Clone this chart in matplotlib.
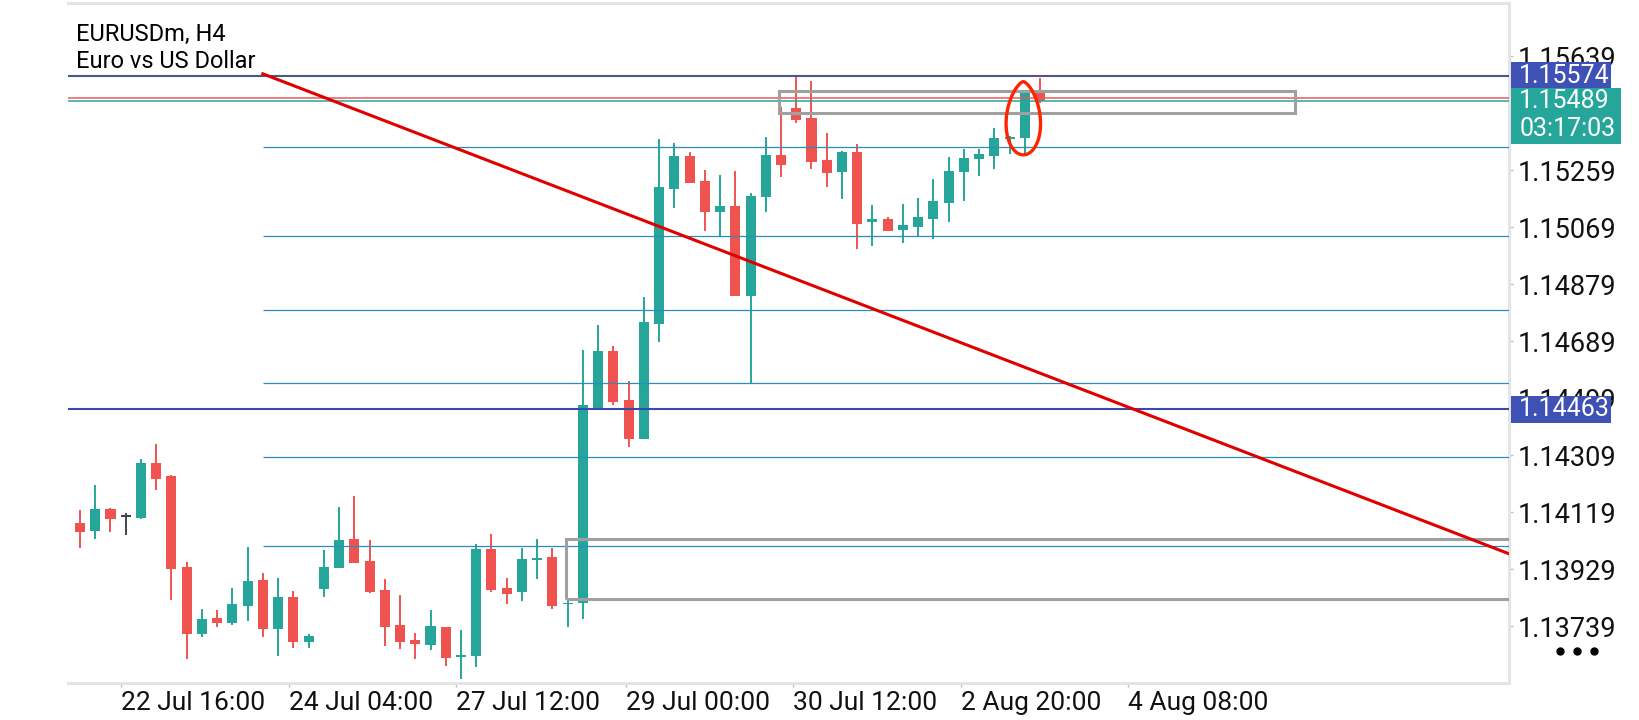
"""
EURUSDm H4 candlestick chart, mobile terminal style.
"""

import matplotlib

matplotlib.use("Agg")

import matplotlib.pyplot as plt
import numpy as np
from matplotlib.patches import Polygon, Rectangle
from matplotlib.transforms import blended_transform_factory


plt.rcParams["font.family"] = ["Roboto", "DejaVu Sans"]

SYMBOL: str = "EURUSDm, H4"
DESCRIPTION: str = "Euro vs US Dollar"

OPENS: list[float] = [
    1.14082, 1.14057, 1.14129, 1.14104, 1.14099, 1.14283, 1.14239, 1.13936,
    1.13714, 1.13766, 1.13750, 1.13807, 1.13893, 1.13730, 1.13836, 1.13687,
    1.13863, 1.13934, 1.14029, 1.13956, 1.13860, 1.13743, 1.13693, 1.13678,
    1.13737, 1.13636, 1.13641, 1.13997, 1.13867, 1.13852, 1.13959, 1.13970,
    1.13812, 1.13818, 1.14464, 1.14658, 1.14492, 1.14364, 1.14747, 1.15197,
    1.15305, 1.15223, 1.15120, 1.15139, 1.14840, 1.15170, 1.15308, 1.15465,
    1.15432, 1.15293, 1.15253, 1.15318, 1.15085, 1.15097, 1.15058, 1.15070,
    1.15097, 1.15150, 1.15254, 1.15295, 1.15307, 1.15362, 1.15367, 1.15517,
]

HIGHS: list[float] = [
    1.14126, 1.14209, 1.14132, 1.14117, 1.14298, 1.14348, 1.14243, 1.13952,
    1.13798, 1.13792, 1.13866, 1.14003, 1.13918, 1.13899, 1.13856, 1.13713,
    1.13993, 1.14137, 1.14172, 1.14026, 1.13896, 1.13842, 1.13716, 1.13793,
    1.13738, 1.13727, 1.14013, 1.14047, 1.13900, 1.13999, 1.14029, 1.13999,
    1.13824, 1.14659, 1.14742, 1.14673, 1.14558, 1.14835, 1.15362, 1.15348,
    1.15318, 1.15259, 1.15243, 1.15256, 1.15182, 1.15368, 1.15468, 1.15570,
    1.15556, 1.15384, 1.15323, 1.15345, 1.15142, 1.15104, 1.15145, 1.15166,
    1.15229, 1.15302, 1.15329, 1.15331, 1.15398, 1.15373, 1.15520, 1.15565,
]

LOWS: list[float] = [
    1.14000, 1.14030, 1.14054, 1.14044, 1.14097, 1.14193, 1.13826, 1.13630,
    1.13704, 1.13737, 1.13744, 1.13756, 1.13704, 1.13640, 1.13666, 1.13666,
    1.13837, 1.13932, 1.13950, 1.13849, 1.13674, 1.13664, 1.13631, 1.13660,
    1.13608, 1.13562, 1.13602, 1.13854, 1.13812, 1.13824, 1.13896, 1.13798,
    1.13738, 1.13762, 1.14462, 1.14475, 1.14337, 1.14362, 1.14687, 1.15134,
    1.15216, 1.15056, 1.15039, 1.14838, 1.14545, 1.15118, 1.15235, 1.15417,
    1.15263, 1.15204, 1.15164, 1.14997, 1.15007, 1.15055, 1.15017, 1.15035,
    1.15028, 1.15087, 1.15157, 1.15240, 1.15264, 1.15314, 1.15307, 1.15482,
]

CLOSES: list[float] = [
    1.14054, 1.14129, 1.14097, 1.14104, 1.14283, 1.14230, 1.13930, 1.13714,
    1.13762, 1.13750, 1.13813, 1.13889, 1.13730, 1.13836, 1.13687, 1.13706,
    1.13937, 1.14026, 1.13951, 1.13854, 1.13738, 1.13688, 1.13679, 1.13740,
    1.13634, 1.13642, 1.13997, 1.13860, 1.13848, 1.13963, 1.13968, 1.13808,
    1.13818, 1.14475, 1.14658, 1.14486, 1.14364, 1.14752, 1.15203, 1.15305,
    1.15217, 1.15120, 1.15139, 1.14840, 1.15173, 1.15308, 1.15277, 1.15426,
    1.15287, 1.15250, 1.15319, 1.15080, 1.15095, 1.15057, 1.15076, 1.15103,
    1.15155, 1.15256, 1.15298, 1.15312, 1.15365, 1.15370, 1.15517, 1.15489,
]

TIME_LABELS: list[str] = [
    "22 Jul 16:00",
    "24 Jul 04:00",
    "27 Jul 12:00",
    "29 Jul 00:00",
    "30 Jul 12:00",
    "2 Aug 20:00",
    "4 Aug 08:00",
]

TIME_LABEL_BARS: list[float] = [2.7, 13.7, 24.7, 35.8, 46.8, 57.8, 68.8]

PRICE_TICKS: list[float] = [
    1.13739, 1.13929, 1.14119, 1.14309, 1.14499, 1.14689,
    1.14879, 1.15069, 1.15259, 1.15449, 1.15639,
]

LEVEL_PRICES: list[float] = [1.15335, 1.15038, 1.14792, 1.14550, 1.14303, 1.14005]
LEVEL_START_BAR: float = 12.0

RESISTANCE: float = 1.15574
SUPPORT: float = 1.14463
BID: float = 1.15489
ASK: float = 1.15498
COUNTDOWN: str = "03:17:03"

TREND_BARS: list[float] = [12.0, 93.8]
TREND_PRICES: list[float] = [1.15580, 1.13980]

# zones: left bar, right bar, low price, high price
UPPER_ZONE: tuple = (45.9, 79.7, 1.15450, 1.15523)
LOWER_ZONE: tuple = (31.9, 120.0, 1.13829, 1.14029)

MARKED_BAR: int = 62
MARK_CENTER_PRICE: float = 1.15432

GREEN = "#26a69a"
RED = "#ef5350"
DOJI = "#3c4452"
INDIGO = "#3f51b5"
BORDER = "#e4e4e4"


def draw_candles(ax) -> None:
    """
    Bodies and wicks.
    """
    for i, (o, h, l, c) in enumerate(zip(OPENS, HIGHS, LOWS, CLOSES)):
        if c > o:
            color = GREEN
        elif c < o:
            color = RED
        else:
            color = DOJI
        ax.vlines(i, l, h, color=color, lw=1.4, zorder=2)
        ax.bar(
            i,
            max(abs(c - o), 0.00006),
            bottom=min(o, c),
            width=0.66,
            color=color,
            zorder=2,
        )


def draw_mark(ax) -> None:
    """
    Hand drawn loop round the breakout candle, slightly pointed on top.
    """
    t = np.linspace(0, 2 * np.pi, 160)
    xs = MARKED_BAR - 0.1 + 1.26 * np.sin(t) * np.abs(np.sin(t / 2)) ** 0.35
    ys = MARK_CENTER_PRICE + 0.00122 * np.cos(t)
    ax.add_patch(
        Polygon(
            np.column_stack([xs, ys]),
            closed=True,
            fill=False,
            ec="#ff2400",
            lw=2.4,
            joinstyle="round",
            zorder=7,
        )
    )


def draw_objects(ax) -> None:
    """
    Horizontal levels, trend line and zones.
    """
    ax.axhline(RESISTANCE, color="#4a5888", lw=1.5, zorder=4)
    ax.axhline(SUPPORT, color="#3949ab", lw=1.5, zorder=4)
    ax.axhline(ASK, color="#e85a5a", lw=1.1, zorder=4)
    ax.axhline(BID, color=GREEN, lw=1.1, zorder=4)

    for level in LEVEL_PRICES:
        ax.hlines(level, LEVEL_START_BAR, 200, color="#2b8cbe", lw=0.9, zorder=4)

    for left, right, low, high in (UPPER_ZONE, LOWER_ZONE):
        ax.add_patch(
            Rectangle(
                (left, low),
                right - left,
                high - low,
                fill=False,
                ec="#a0a0a0",
                lw=2.2,
                zorder=5,
            )
        )

    ax.plot(TREND_BARS, TREND_PRICES, color="#e00000", lw=2.2, zorder=6)


def draw_price_boxes(ax) -> None:
    """
    Coloured price tags on the right scale.
    """
    blend = blended_transform_factory(ax.transAxes, ax.transData)

    tags = [
        (RESISTANCE, RESISTANCE - 0.00045, 0.0009, INDIGO, 0.0694),
        (SUPPORT, SUPPORT - 0.00045, 0.0009, INDIGO, 0.0694),
        (BID, BID - 0.00142, 0.00186, GREEN, 0.0763),
    ]
    for price, bottom, height, color, width in tags:
        ax.add_patch(
            Rectangle(
                (1.0014, bottom),
                width,
                height,
                transform=blend,
                fc=color,
                ec="none",
                clip_on=False,
                zorder=10,
            )
        )
        ax.text(
            1.0072,
            price,
            f"{price:.5f}",
            transform=blend,
            color="white",
            fontsize=18,
            va="center",
            ha="left",
            clip_on=False,
            zorder=11,
        )

    ax.text(
        1.0072,
        BID - 0.00094,
        COUNTDOWN,
        transform=blend,
        color="white",
        fontsize=18,
        va="center",
        ha="left",
        clip_on=False,
        zorder=11,
    )


def style_axes(ax) -> None:
    """
    Scales, ticks and frame.
    """
    ax.set_xlim(-0.787, 93.77)
    ax.set_ylim(1.13550, 1.15816)

    ax.yaxis.tick_right()
    ax.set_yticks(PRICE_TICKS)
    ax.set_yticklabels([f"{p:.5f}" for p in PRICE_TICKS])
    ax.tick_params(
        axis="y",
        length=3,
        width=1,
        color="#bdbdbd",
        pad=3.6,
        labelsize=19.5,
        labelcolor="#111111",
    )

    ax.set_xticks(TIME_LABEL_BARS)
    ax.set_xticklabels(TIME_LABELS, ha="left")
    ax.tick_params(
        axis="x",
        length=3,
        width=1,
        color="#bdbdbd",
        pad=3,
        labelsize=19,
        labelcolor="#111111",
    )

    ax.spines["left"].set_visible(False)
    for side in ("top", "right", "bottom"):
        ax.spines[side].set_color(BORDER)
        ax.spines[side].set_linewidth(2.2)


def main() -> None:
    """
    Build and save the chart.
    """
    fig = plt.figure(figsize=(16.4, 7.2), dpi=100)
    ax = fig.add_axes([68 / 1640, 37 / 720, 1441 / 1640, 680 / 720])

    draw_candles(ax)
    draw_objects(ax)
    draw_mark(ax)
    style_axes(ax)
    draw_price_boxes(ax)

    fig.text(76 / 1640, 1 - 34 / 720, SYMBOL, fontsize=17, va="center")
    fig.text(76 / 1640, 1 - 62 / 720, DESCRIPTION, fontsize=17, va="center")

    ax.plot(
        [1560 / 1640, 1577 / 1640, 1594 / 1640],
        [1 - 651 / 720] * 3,
        "o",
        ms=5,
        color="black",
        transform=fig.transFigure,
        clip_on=False,
    )

    fig.savefig("out.png", dpi=100)


if __name__ == "__main__":
    main()
